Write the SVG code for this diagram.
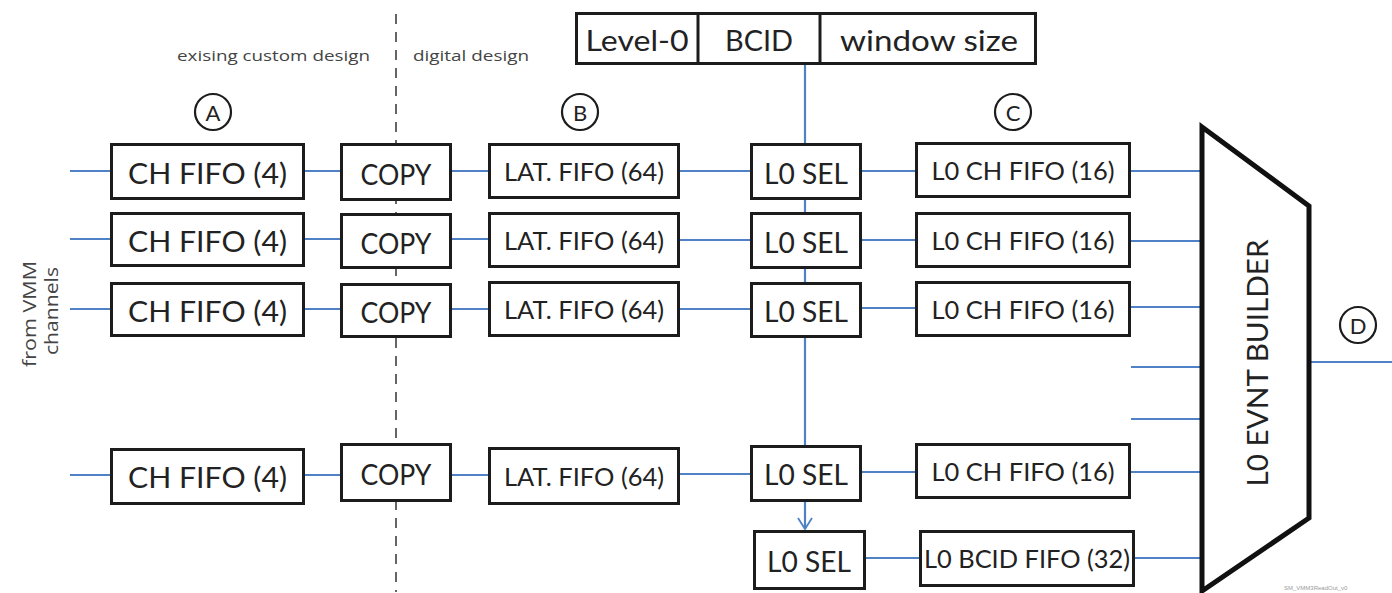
<svg xmlns="http://www.w3.org/2000/svg" width="1392" height="593" viewBox="0 0 1392 593">
  <style>
    .box { fill: #ffffff; stroke: #1c1c1c; stroke-width: 3; }
    .wire { stroke: #4f81c7; stroke-width: 2.2; fill: none; }
    .lbl { font-family: Lato, "Open Sans", "Liberation Sans", sans-serif; fill: #222222; text-anchor: middle; dominant-baseline: central; }
    .big { font-size: 29px; }
    .mid { font-size: 25px; }
    .note { font-family: "Open Sans", "Liberation Sans", sans-serif; font-size: 15px; fill: #444444; }
    .side { font-family: "Open Sans", "Liberation Sans", sans-serif; font-size: 18px; fill: #444444; text-anchor: middle; }
    .tag { fill: #ffffff; stroke: #1c1c1c; stroke-width: 2.2; }
  </style>
  <defs>
    <!-- open V arrowhead, drawn along +x so orient="auto" turns it with the line -->
    <marker id="vee" markerWidth="14" markerHeight="18" refX="12" refY="8" orient="auto" markerUnits="userSpaceOnUse">
      <path d="M1,1 L12,8 L1,15" fill="none" stroke="#4f81c7" stroke-width="1.8"/>
    </marker>
  </defs>
  <rect width="1392" height="593" fill="#ffffff"/>

  <!-- boundary between custom and digital parts -->
  <g id="boundary">
    <line x1="396" y1="14" x2="396" y2="592" stroke="#333333" stroke-width="1.5" stroke-dasharray="10 8"/>
    <text class="note" x="177" y="61" textLength="193" lengthAdjust="spacingAndGlyphs">exising custom design</text>
    <text class="note" x="413" y="61" textLength="116" lengthAdjust="spacingAndGlyphs">digital design</text>
  </g>

  <!-- connectors -->
  <g id="connectors">
    <!-- inputs -->
    <line class="wire" x1="70" y1="171" x2="111" y2="171"/>
    <line class="wire" x1="70" y1="239" x2="111" y2="239"/>
    <line class="wire" x1="70" y1="309" x2="111" y2="309"/>
    <line class="wire" x1="70" y1="475" x2="111" y2="475"/>
    <!-- CH FIFO to COPY -->
    <line class="wire" x1="305" y1="171" x2="340" y2="171"/>
    <line class="wire" x1="305" y1="239" x2="340" y2="239"/>
    <line class="wire" x1="305" y1="309" x2="340" y2="309"/>
    <line class="wire" x1="305" y1="475" x2="340" y2="475"/>
    <!-- COPY to LAT FIFO -->
    <line class="wire" x1="452" y1="171" x2="488" y2="171"/>
    <line class="wire" x1="452" y1="239" x2="488" y2="239"/>
    <line class="wire" x1="452" y1="309" x2="488" y2="309"/>
    <line class="wire" x1="452" y1="475" x2="488" y2="475"/>
    <!-- LAT FIFO to L0 SEL -->
    <line class="wire" x1="680" y1="171" x2="750" y2="171"/>
    <line class="wire" x1="680" y1="240" x2="750" y2="240"/>
    <line class="wire" x1="680" y1="309" x2="750" y2="309"/>
    <line class="wire" x1="680" y1="474" x2="750" y2="474"/>
    <!-- L0 SEL to L0 CH FIFO -->
    <line class="wire" x1="862" y1="171" x2="915" y2="171"/>
    <line class="wire" x1="862" y1="240" x2="915" y2="240"/>
    <line class="wire" x1="862" y1="308" x2="915" y2="308"/>
    <line class="wire" x1="862" y1="472" x2="915" y2="472"/>
    <line class="wire" x1="866" y1="558" x2="919" y2="558"/>
    <!-- FIFOs to event builder -->
    <line class="wire" x1="1131" y1="171" x2="1203" y2="171"/>
    <line class="wire" x1="1131" y1="241" x2="1203" y2="241"/>
    <line class="wire" x1="1131" y1="307" x2="1203" y2="307"/>
    <line class="wire" x1="1131" y1="367" x2="1203" y2="367"/>
    <line class="wire" x1="1131" y1="419" x2="1203" y2="419"/>
    <line class="wire" x1="1131" y1="472" x2="1203" y2="472"/>
    <line class="wire" x1="1135" y1="558" x2="1203" y2="558"/>
    <!-- trigger bus down through the selectors -->
    <line class="wire" x1="805" y1="65" x2="805" y2="445"/>
    <line class="wire" x1="805" y1="502" x2="805" y2="529" marker-end="url(#vee)"/>
    <!-- event builder output -->
    <line class="wire" x1="1309" y1="362" x2="1392" y2="362"/>
  </g>

  <!-- trigger word -->
  <g id="trigger">
    <rect class="box" x="576.5" y="13.5" width="459" height="50"/>
    <line x1="698" y1="13" x2="698" y2="64" stroke="#1c1c1c" stroke-width="3"/>
    <line x1="820" y1="13" x2="820" y2="64" stroke="#1c1c1c" stroke-width="3"/>
    <text class="lbl big" x="637" y="39" textLength="103" lengthAdjust="spacingAndGlyphs">Level-0</text>
    <text class="lbl big" x="759" y="39" textLength="68" lengthAdjust="spacingAndGlyphs">BCID</text>
    <text class="lbl big" x="929" y="39" textLength="178" lengthAdjust="spacingAndGlyphs">window size</text>
  </g>

  <!-- stage markers -->
  <g id="marker-A"><circle class="tag" cx="213" cy="112" r="18"/><text class="lbl" x="213" y="112" font-size="22">A</text></g>
  <g id="marker-B"><circle class="tag" cx="580" cy="112" r="18"/><text class="lbl" x="580" y="112" font-size="22">B</text></g>
  <g id="marker-C"><circle class="tag" cx="1013" cy="112" r="18"/><text class="lbl" x="1013" y="112" font-size="22">C</text></g>
  <g id="marker-D"><circle class="tag" cx="1358" cy="325" r="18"/><text class="lbl" x="1358" y="325" font-size="22">D</text></g>

  <!-- input label -->
  <g id="input-label">
    <text class="side" transform="translate(36,314) rotate(-90)" textLength="106" lengthAdjust="spacingAndGlyphs">from VMM</text>
    <text class="side" transform="translate(58,311) rotate(-90)" textLength="88" lengthAdjust="spacingAndGlyphs">channels</text>
  </g>

  <!-- channel FIFOs -->
  <g id="chfifo-1"><rect class="box" x="111.5" y="144.5" width="192" height="54"/><text class="lbl big" x="207.5" y="172" textLength="159" lengthAdjust="spacingAndGlyphs">CH FIFO (4)</text></g>
  <g id="chfifo-2"><rect class="box" x="111.5" y="213.5" width="192" height="52"/><text class="lbl big" x="207.5" y="240" textLength="159" lengthAdjust="spacingAndGlyphs">CH FIFO (4)</text></g>
  <g id="chfifo-3"><rect class="box" x="111.5" y="283.5" width="192" height="52"/><text class="lbl big" x="207.5" y="310" textLength="159" lengthAdjust="spacingAndGlyphs">CH FIFO (4)</text></g>
  <g id="chfifo-4"><rect class="box" x="111.5" y="449.5" width="192" height="54"/><text class="lbl big" x="207.5" y="476" textLength="159" lengthAdjust="spacingAndGlyphs">CH FIFO (4)</text></g>

  <!-- copy stages -->
  <g id="copy-1"><rect class="box" x="341.5" y="144.5" width="109" height="55"/><text class="lbl big" x="396" y="173" textLength="71" lengthAdjust="spacingAndGlyphs">COPY</text></g>
  <g id="copy-2"><rect class="box" x="341.5" y="214.5" width="109" height="53"/><text class="lbl big" x="396" y="242" textLength="71" lengthAdjust="spacingAndGlyphs">COPY</text></g>
  <g id="copy-3"><rect class="box" x="341.5" y="284.5" width="109" height="52"/><text class="lbl big" x="396" y="311" textLength="71" lengthAdjust="spacingAndGlyphs">COPY</text></g>
  <g id="copy-4"><rect class="box" x="341.5" y="444.5" width="109" height="56"/><text class="lbl big" x="396" y="473" textLength="71" lengthAdjust="spacingAndGlyphs">COPY</text></g>

  <!-- latency FIFOs -->
  <g id="latfifo-1"><rect class="box" x="489.5" y="144.5" width="189" height="53"/><text class="lbl mid" x="584" y="171" textLength="160" lengthAdjust="spacingAndGlyphs">LAT. FIFO (64)</text></g>
  <g id="latfifo-2"><rect class="box" x="489.5" y="213.5" width="189" height="53"/><text class="lbl mid" x="584" y="240" textLength="160" lengthAdjust="spacingAndGlyphs">LAT. FIFO (64)</text></g>
  <g id="latfifo-3"><rect class="box" x="489.5" y="282.5" width="189" height="53"/><text class="lbl mid" x="584" y="309" textLength="160" lengthAdjust="spacingAndGlyphs">LAT. FIFO (64)</text></g>
  <g id="latfifo-4"><rect class="box" x="489.5" y="448.5" width="189" height="55"/><text class="lbl mid" x="584" y="476" textLength="160" lengthAdjust="spacingAndGlyphs">LAT. FIFO (64)</text></g>

  <!-- L0 selectors -->
  <g id="l0sel-1"><rect class="box" x="751.5" y="144.5" width="109" height="54"/><text class="lbl big" x="806" y="172" textLength="84" lengthAdjust="spacingAndGlyphs">L0 SEL</text></g>
  <g id="l0sel-2"><rect class="box" x="751.5" y="213.5" width="109" height="54"/><text class="lbl big" x="806" y="241" textLength="84" lengthAdjust="spacingAndGlyphs">L0 SEL</text></g>
  <g id="l0sel-3"><rect class="box" x="751.5" y="283.5" width="109" height="53"/><text class="lbl big" x="806" y="310" textLength="84" lengthAdjust="spacingAndGlyphs">L0 SEL</text></g>
  <g id="l0sel-4"><rect class="box" x="751.5" y="446.5" width="109" height="54"/><text class="lbl big" x="806" y="473" textLength="84" lengthAdjust="spacingAndGlyphs">L0 SEL</text></g>
  <g id="l0sel-5"><rect class="box" x="754.5" y="531.5" width="110" height="57"/><text class="lbl big" x="809" y="560" textLength="84" lengthAdjust="spacingAndGlyphs">L0 SEL</text></g>

  <!-- L0 channel FIFOs -->
  <g id="l0chfifo-1"><rect class="box" x="916.5" y="143.5" width="213" height="53"/><text class="lbl mid" x="1023" y="170" textLength="183" lengthAdjust="spacingAndGlyphs">L0 CH FIFO (16)</text></g>
  <g id="l0chfifo-2"><rect class="box" x="916.5" y="213.5" width="213" height="53"/><text class="lbl mid" x="1023" y="240" textLength="183" lengthAdjust="spacingAndGlyphs">L0 CH FIFO (16)</text></g>
  <g id="l0chfifo-3"><rect class="box" x="916.5" y="282.5" width="213" height="53"/><text class="lbl mid" x="1023" y="309" textLength="183" lengthAdjust="spacingAndGlyphs">L0 CH FIFO (16)</text></g>
  <g id="l0chfifo-4"><rect class="box" x="916.5" y="444.5" width="213" height="53"/><text class="lbl mid" x="1023" y="471" textLength="183" lengthAdjust="spacingAndGlyphs">L0 CH FIFO (16)</text></g>
  <g id="l0bcidfifo"><rect class="box" x="920.5" y="531.5" width="213" height="54"/><text class="lbl mid" x="1027" y="558" textLength="206" lengthAdjust="spacingAndGlyphs">L0 BCID FIFO (32)</text></g>

  <!-- event builder -->
  <g id="event-builder">
    <polygon points="1202,127 1309,206 1309,518 1202,591" fill="#ffffff" stroke="#111111" stroke-width="5" stroke-linejoin="miter"/>
    <text class="lbl" font-size="29" transform="translate(1256,363) rotate(-90)" textLength="247" lengthAdjust="spacingAndGlyphs">L0 EVNT BUILDER</text>
  </g>

  <text x="1284" y="590" font-family="Liberation Sans, sans-serif" font-size="6" fill="#9a9a9a">SM_VMM3ReadOut_v0</text>
</svg>
